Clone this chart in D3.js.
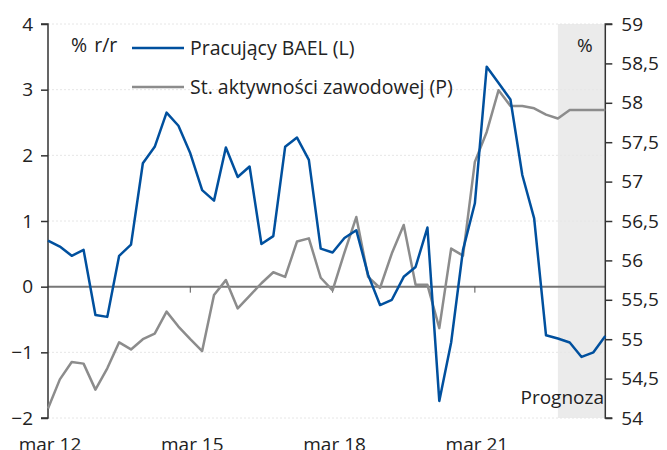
<!DOCTYPE html>
<html><head><meta charset="utf-8">
<script src="https://cdn.jsdelivr.net/npm/d3@7"></script>
<style>body{margin:0;background:#fff}svg{display:block}text{font-family:"Open Sans",sans-serif;fill:#222}</style>
</head><body>
<svg id="c" width="667" height="450"></svg>
<script>
const quarters = d3.range(48).map(i => {const m=["mar","cze","wrz","gru"][i%4]; const y=12+Math.floor(i/4); return m+" "+y;});
const employed = [0.70,0.61,0.47,0.56,-0.43,-0.46,0.47,0.64,1.88,2.13,2.65,2.45,2.03,1.47,1.31,2.12,1.67,1.83,0.65,0.77,2.13,2.27,1.93,0.58,0.52,0.74,0.86,0.18,-0.28,-0.20,0.15,0.30,0.90,-1.74,-0.85,0.56,1.27,3.35,3.10,2.85,1.70,1.04,-0.74,-0.79,-0.85,-1.07,-1.00,-0.75];
const activity = [54.12,54.49,54.71,54.69,54.36,54.63,54.96,54.87,55.00,55.07,55.35,55.16,55.00,54.85,55.56,55.75,55.39,55.55,55.71,55.85,55.79,56.24,56.28,55.78,55.62,56.10,56.55,55.79,55.65,56.09,56.45,55.69,55.69,55.14,56.15,56.06,57.25,57.63,58.16,57.96,57.96,57.93,57.85,57.80,57.91,57.91,57.91,57.91];
const leftTicks = [-2,-1,0,1,2,3,4];
const rightTicks = [54,54.5,55,55.5,56,56.5,57,57.5,58,58.5,59];
const xLabels = ["mar 12","mar 15","mar 18","mar 21"];
const forecastStart = "gru 22";
const legendNames = ["Pracujący BAEL (L)","St. aktywności zawodowej (P)"];

const svg = d3.select("#c");
const L=48,R=605.3,T=24,B=418;
const x = d3.scalePoint().domain(quarters).range([L,R]);
const yL = d3.scaleLinear().domain([-2,4]).range([B,T]);
const yR = d3.scaleLinear().domain([54,59]).range([B,T]);
const blue="#00509e", gray="#8c8c8c";

svg.append("rect").attr("x",x(forecastStart)).attr("y",T).attr("width",R-x(forecastStart)).attr("height",B-T).attr("fill","#ebebeb");

svg.append("g").selectAll("line").data(leftTicks.filter(d=>d!==0)).join("line")
  .attr("x1",L).attr("x2",R).attr("y1",d=>yL(d)).attr("y2",d=>yL(d))
  .attr("stroke","#e6e6e6").attr("stroke-width",1).attr("stroke-dasharray","2,2");

svg.append("line").attr("x1",L).attr("x2",R).attr("y1",yL(0)).attr("y2",yL(0)).attr("stroke","#777").attr("stroke-width",2);

svg.append("g").selectAll("line").data(xLabels.slice(1)).join("line")
  .attr("x1",d=>x(d)).attr("x2",d=>x(d)).attr("y1",yL(0)).attr("y2",yL(0)+6).attr("stroke","#555").attr("stroke-width",1);

const gL = svg.append("g").attr("transform",`translate(${L},0)`).call(d3.axisLeft(yL).tickValues(leftTicks).tickSize(7).tickPadding(8).tickFormat(d3.format("d")));
const gR = svg.append("g").attr("transform",`translate(${R},0)`).call(d3.axisRight(yR).tickValues(rightTicks).tickSize(7).tickPadding(9).tickFormat(d=>String(d).replace(".",",")));
[gL,gR].forEach(g=>{
  g.select(".domain").attr("stroke","#333").attr("stroke-width",1.5);
  g.selectAll(".tick line").attr("stroke","#333").attr("stroke-width",1.5);
  g.selectAll(".tick text").style("font-family","'Open Sans',sans-serif").style("font-size","19px").attr("fill","#222");
});
gL.select(".domain").attr("d",`M-7,${B}H0V${T}H-7`);
gR.select(".domain").attr("d",`M7,${B}H0V${T}H7`);

svg.append("g").selectAll("text").data(xLabels).join("text")
  .attr("x",d=>x(d)+2).attr("y",451).attr("text-anchor","middle").style("font-size","19px").text(d=>d);

svg.append("path").datum(activity).attr("fill","none").attr("stroke",gray).attr("stroke-width",2.5).attr("stroke-linejoin","round")
  .attr("d",d3.line().x((d,i)=>x(quarters[i])).y(d=>yR(d)));
svg.append("path").datum(employed).attr("fill","none").attr("stroke",blue).attr("stroke-width",2.5).attr("stroke-linejoin","round")
  .attr("d",d3.line().x((d,i)=>x(quarters[i])).y(d=>yL(d)));

svg.append("text").attr("x",71).attr("y",52).style("font-size","19.5px").style("word-spacing","2px").text("% r/r");
svg.append("text").attr("x",577).attr("y",52).style("font-size","19px").text("%");
svg.append("text").attr("x",604).attr("y",404).attr("text-anchor","end").style("font-size","19px").text("Prognoza");

const lg = svg.append("g");
[blue,gray].forEach((c,i)=>{
  const yy = 48 + i*39;
  lg.append("line").attr("x1",132).attr("x2",184).attr("y1",yy).attr("y2",yy).attr("stroke",c).attr("stroke-width",2.5);
  lg.append("text").attr("x",190).attr("y",yy+7).style("font-size","19.5px").text(legendNames[i]);
});
</script>
</body></html>
